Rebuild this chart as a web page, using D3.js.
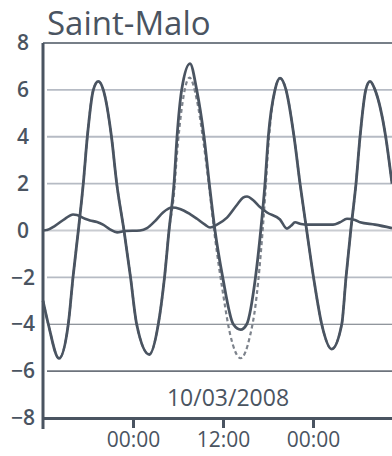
<!DOCTYPE html>
<html lang="fr">
<head>
<meta charset="UTF-8">
<title>Saint-Malo</title>
<style>
  body { margin: 0; background: #fff; }
  svg { display: block; font-family: "Open Sans", "Noto Sans", sans-serif; }
  .lbl { fill: #4a5461; }
</style>
</head>
<body>
<script src="https://d3js.org/d3.v7.min.js"></script>
<script>
const title = 'Saint-Malo'
const dateLabel = '10/03/2008'
const startTime = new Date(2008, 2, 9, 12, 0)
const endHours = 46.53
const yTicks = [-8, -6, -4, -2, 0, 2, 4, 6, 8]
const xTickHours = [12, 24, 36]

// observed sea level (m), hours after 09/03 12:00
const obsHours = [0, 0.71, 2.13, 3.37, 4.0, 4.71, 5.37, 5.91, 6.71, 7.37, 8.04, 9.13, 9.83, 10.8, 11.67, 12.49,
  14.17, 15.37, 16.2, 16.8, 17.47, 17.87, 18.49, 19.6, 20.49, 21.47, 22.17, 22.93, 23.96, 25.37, 26.36,
  27.16, 28.33, 29.03, 29.6, 30.04, 30.93, 31.6, 32.4, 33.47, 34.27, 35.16, 36.07, 37.16, 38.49, 39.83,
  40.4, 41.03, 41.73, 42.27, 43.03, 43.6, 44.27, 45.69, 46.53]
const obsLevel = [-3.0, -4, -5.46, -4, -2, 0, 2, 4, 6, 6.36, 6, 4, 2, 0, -2, -4,
  -5.29, -4, -2, 0, 2, 4, 6, 7.12, 6, 4, 2, 0, -2, -4, -4.23,
  -4, -2, 0, 2, 4, 6, 6.5, 6, 4, 2, 0, -2, -4, -5.06, -4,
  -2, 0, 2, 4, 6, 6.36, 6, 4, 2]

// predicted tide (dashed), only departs from observed around 10/03
const predHours = [0, 0.71, 2.13, 3.37, 4.0, 4.71, 5.37, 5.91, 6.71, 7.37, 8.04, 9.13, 9.83, 10.8, 11.67, 12.49,
  14.17, 15.37, 16.2, 16.8, 17.47, 17.87, 18.49, 19.55, 20.49, 21.47, 22.17, 22.93, 23.96, 24.93, 26.36,
  27.6, 28.33, 29.03, 29.6, 30.04, 30.93, 31.6, 32.4, 33.47, 34.27, 35.16, 36.07, 37.16, 38.49, 39.83,
  40.4, 41.03, 41.73, 42.27, 43.03, 43.6, 44.27, 45.69, 46.53]
const predLevel = [-3.0, -4, -5.46, -4, -2, 0, 2, 4, 6, 6.36, 6, 4, 2, 0, -2, -4,
  -5.29, -4, -2, 0, 1.6, 3.3, 5.2, 6.52, 5.6, 3.6, 1.8, -0.3, -2.6, -4.4, -5.45,
  -4.5, -3.2, -1.0, 1.4, 3.6, 6, 6.5, 6, 4, 2, 0, -2, -4, -5.06, -4,
  -2, 0, 2, 4, 6, 6.36, 6, 4, 2]

// surge / residual (m)
const surgeHours = [0, 0.53, 1.6, 2.93, 4.0, 4.53, 5.6, 6.27, 7.2, 8.0, 8.93, 9.87, 10.93, 12.93, 13.87, 14.93,
  16.0, 17.2, 18.27, 19.6, 20.53, 21.6, 22.27, 23.2, 24.53, 25.87, 26.67, 27.2, 28.0, 28.93, 29.87,
  31.6, 32.53, 33.07, 33.6, 34.4, 35.2, 38.67, 39.6, 40.53, 41.6, 42.27, 44.27, 46.53]
const surgeLevel = [0.0, 0.02, 0.2, 0.5, 0.68, 0.66, 0.5, 0.43, 0.36, 0.25, 0.05, -0.08, -0.02, 0.0, 0.1, 0.4,
  0.77, 0.98, 0.92, 0.7, 0.5, 0.25, 0.13, 0.25, 0.55, 1.1, 1.4, 1.45, 1.3, 1.0, 0.77,
  0.47, 0.08, 0.2, 0.35, 0.28, 0.25, 0.25, 0.35, 0.5, 0.45, 0.35, 0.25, 0.1]

const width = 392, height = 456
const ink = '#4a5461'
const hour = h => new Date(startTime.getTime() + h * 3600e3)

const svg = d3.select('body').append('svg')
  .attr('width', width)
  .attr('height', height)

const x = d3.scaleTime().domain([startTime, hour(endHours)]).range([43, 392])
const y = d3.scaleLinear().domain([-8, 8]).range([418, 43])

// grid
const grid = yTicks.filter(v => v > -8 && v < 8)
svg.append('g').selectAll('line')
  .data(grid)
  .enter()
  .append('line')
  .attr('x1', x.range()[0] + 4)
  .attr('x2', x.range()[1])
  .attr('y1', d => y(d))
  .attr('y2', d => y(d))
  .attr('stroke', d => d <= -4 ? '#6d737c' : (d === 0 ? '#c9ccd1' : '#b6bbc4'))
  .attr('stroke-width', d => d === -6 ? 1.6 : (d === -4 ? 1.2 : 1.8))

// top frame line
svg.append('line')
  .attr('x1', x.range()[0])
  .attr('x2', x.range()[1])
  .attr('y1', y(8))
  .attr('y2', y(8))
  .attr('stroke', ink)
  .attr('stroke-width', 1.6)

const toPts = (hs, vs) => hs.map((h, i) => ({ t: hour(h), v: vs[i] }))
const line = d3.line()
  .x(d => x(d.t))
  .y(d => y(d.v))
  .curve(d3.curveMonotoneX)

svg.append('path')
  .datum(toPts(predHours, predLevel))
  .attr('d', line)
  .attr('fill', 'none')
  .attr('stroke', '#7d838c')
  .attr('stroke-width', 2.2)
  .attr('stroke-dasharray', '4,3')

svg.append('path')
  .datum(toPts(surgeHours, surgeLevel))
  .attr('d', line)
  .attr('fill', 'none')
  .attr('stroke', ink)
  .attr('stroke-width', 2.6)
  .attr('stroke-linejoin', 'round')

svg.append('path')
  .datum(toPts(obsHours, obsLevel))
  .attr('d', line)
  .attr('fill', 'none')
  .attr('stroke', ink)
  .attr('stroke-width', 2.8)
  .attr('stroke-linejoin', 'round')

// x axis
const xAxis = svg.append('g')
  .attr('transform', `translate(0,${y(-8)})`)
  .call(d3.axisBottom(x)
    .tickValues(xTickHours.map(hour))
    .tickFormat(d3.timeFormat('%H:%M'))
    .tickSize(10)
    .tickSizeOuter(0)
    .tickPadding(4))
xAxis.select('.domain').attr('stroke', ink).attr('stroke-width', 3)
xAxis.selectAll('.tick line').attr('stroke', ink).attr('stroke-width', 3)
xAxis.selectAll('.tick text')
  .attr('class', 'lbl')
  .attr('font-size', 21)
  .attr('font-weight', 500)
  .attr('font-family', '"Open Sans", sans-serif')

// y axis
const yAxis = svg.append('g')
  .attr('transform', `translate(${x.range()[0]},0)`)
  .call(d3.axisLeft(y).tickValues(yTicks).tickSize(0).tickPadding(20))
yAxis.select('.domain').remove()
yAxis.append('line')
  .attr('y1', y(8))
  .attr('y2', y(-8) + 11)
  .attr('stroke', ink)
  .attr('stroke-width', 3)
yAxis.selectAll('.tick text')
  .attr('class', 'lbl')
  .attr('text-anchor', 'middle')
  .attr('font-size', 21)
  .attr('font-weight', 600)
  .attr('font-family', '"Open Sans", sans-serif')

// date label inside the plot
svg.append('text')
  .attr('class', 'lbl')
  .attr('x', x(hour(24)) + 5)
  .attr('y', y(-8) - 12)
  .attr('text-anchor', 'middle')
  .attr('font-size', 23)
  .attr('font-weight', 500)
  .text(dateLabel)

svg.append('text')
  .attr('class', 'lbl')
  .attr('x', 47)
  .attr('y', 35)
  .attr('font-size', 33)
  .attr('font-weight', 500)
  .text(title)
</script>
</body>
</html>
